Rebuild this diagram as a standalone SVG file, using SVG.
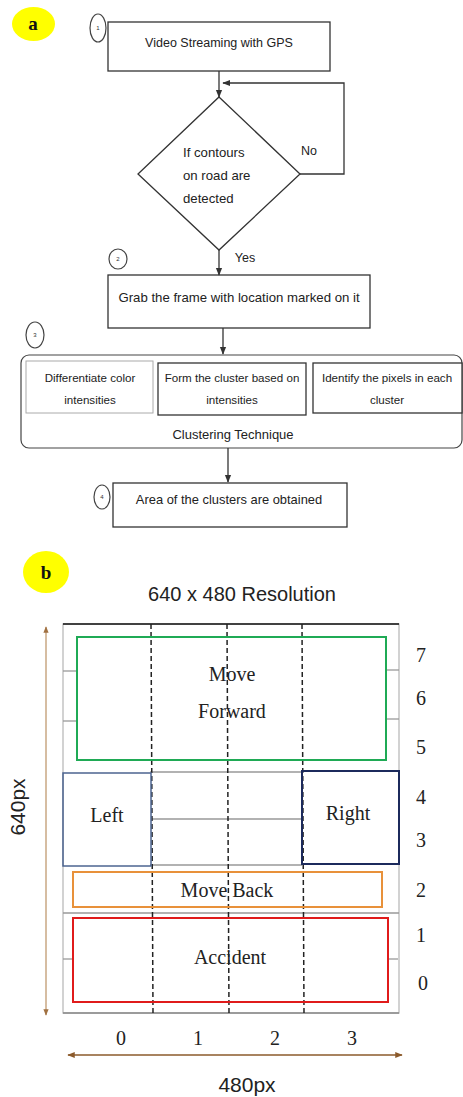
<svg xmlns="http://www.w3.org/2000/svg" width="463" height="1097" viewBox="0 0 463 1097">
<style>
.fc{font-family:"Liberation Sans",Arial,sans-serif;font-size:12.5px;fill:#222;text-anchor:middle}
.sm{font-size:11.6px}
.box{fill:#fff;stroke:#333;stroke-width:1.3}
.ln{fill:none;stroke:#333;stroke-width:1.3}
.num{fill:#fff;stroke:#444;stroke-width:1.2}
.tiny{font-family:"Liberation Sans",Arial,sans-serif;font-size:6px;fill:#333;text-anchor:middle}
.lab{font-family:"Liberation Serif","Times New Roman",serif;font-weight:bold;font-size:19px;fill:#111;text-anchor:middle}
.ser{font-family:"Liberation Serif","Times New Roman",serif;font-size:20px;fill:#222;text-anchor:middle}
.sans{font-family:"Liberation Sans",Arial,sans-serif;font-size:21px;fill:#222;text-anchor:middle}
.dash{stroke:#222;stroke-width:1.5;stroke-dasharray:5,3;fill:none}
.grid{stroke:#999;stroke-width:1.3;fill:none}
</style>
<defs>
<marker id="ah" viewBox="0 0 10 10" refX="9" refY="5" markerWidth="6" markerHeight="6" orient="auto-start-reverse"><path d="M0,1 L10,5 L0,9 z" fill="#333"/></marker>
<marker id="bh" viewBox="0 0 10 10" refX="9" refY="5" markerWidth="5" markerHeight="5" orient="auto-start-reverse"><path d="M0,1 L10,5 L0,9 z" fill="#8b5a2b"/></marker>
<marker id="vh" viewBox="0 0 10 10" refX="9" refY="5" markerWidth="5" markerHeight="5" orient="auto-start-reverse"><path d="M0,1 L10,5 L0,9 z" fill="#a07040"/></marker>
</defs>
<rect width="463" height="1097" fill="#fff"/>

<g id="label-a"><ellipse cx="33.5" cy="24" rx="21.5" ry="17" fill="#ffff00"/><text class="lab" x="33" y="30">a</text></g>

<g id="node1"><rect class="box" x="108" y="22" width="222" height="49"/><text class="fc" x="219" y="47">Video Streaming with GPS</text>
<ellipse class="num" cx="98" cy="28" rx="8" ry="14"/><text class="tiny" x="98" y="30">1</text></g>

<g id="decision"><polygon class="box" points="219,97 300,174 219,250 138,174"/>
<text class="fc" x="183" y="157" style="text-anchor:start;font-size:13.2px">If contours</text>
<text class="fc" x="183" y="180" style="text-anchor:start;font-size:13.2px">on road are</text>
<text class="fc" x="183" y="203" style="text-anchor:start;font-size:13.2px">detected</text></g>

<g id="node2"><rect class="box" x="108" y="275" width="262" height="53"/><text class="fc" x="239" y="302" style="font-size:13.2px">Grab the frame with location marked on it</text>
<ellipse class="num" cx="118" cy="259" rx="9" ry="10"/><text class="tiny" x="118" y="261">2</text></g>

<g id="node3"><rect x="21" y="355" width="441" height="93" rx="8" fill="#fff" stroke="#444" stroke-width="1.2"/>
<rect x="26" y="361" width="127" height="52" fill="#fff" stroke="#aaa" stroke-width="1"/>
<rect class="box" x="158" y="363" width="148" height="52"/>
<rect class="box" x="313" y="363" width="149" height="50"/>
<text class="fc sm" x="90" y="382">Differentiate color</text><text class="fc sm" x="90" y="404">intensities</text>
<text class="fc sm" x="232" y="382">Form the cluster based on</text><text class="fc sm" x="232" y="404">intensities</text>
<text class="fc sm" x="387" y="382">Identify the pixels in each</text><text class="fc sm" x="387" y="404">cluster</text>
<text class="fc" x="233" y="439" style="font-size:13px">Clustering Technique</text>
<ellipse class="num" cx="35" cy="335" rx="9" ry="13"/><text class="tiny" x="35" y="337">3</text></g>

<g id="node4"><rect class="box" x="113" y="483" width="234" height="44"/><text class="fc" x="229" y="504" style="font-size:12.9px">Area of the clusters are obtained</text>
<ellipse class="num" cx="102" cy="497" rx="8" ry="12"/><text class="tiny" x="102" y="499">4</text></g>

<g id="connectors">
<line class="ln" x1="219" y1="71" x2="219" y2="97" marker-end="url(#ah)"/>
<polyline class="ln" points="300,174 344,174 344,83 223,83" marker-end="url(#ah)"/>
<line class="ln" x1="219" y1="250" x2="219" y2="275" marker-end="url(#ah)"/>
<line class="ln" x1="223" y1="328" x2="223" y2="354" marker-end="url(#ah)"/>
<line class="ln" x1="228" y1="448" x2="228" y2="482" marker-end="url(#ah)"/>
<text class="fc" x="309" y="155">No</text>
<text class="fc" x="245" y="262">Yes</text>
</g>

<g id="label-b"><ellipse cx="46" cy="572" rx="23" ry="21" fill="#ffff00"/><text class="lab" x="46" y="579">b</text></g>
<text class="sans" x="242" y="601" style="font-size:20px">640 x 480 Resolution</text>

<g id="grid">
<rect x="63" y="624" width="336" height="389" fill="#fff" stroke="#bbb" stroke-width="1.3"/>
<line x1="63" y1="624" x2="399" y2="624" stroke="#111" stroke-width="1.5"/>
<line class="grid" x1="63" y1="671" x2="77" y2="671"/><line class="grid" x1="63" y1="721" x2="77" y2="721"/>
<line class="grid" x1="386" y1="670" x2="399" y2="670"/><line class="grid" x1="386" y1="719" x2="399" y2="719"/>
<line class="grid" x1="150" y1="772" x2="302" y2="772"/>
<line class="grid" x1="152" y1="819" x2="302" y2="819"/>
<line class="grid" x1="150" y1="865" x2="302" y2="865"/>
<line class="grid" x1="63" y1="913" x2="399" y2="913"/>
<line class="grid" x1="63" y1="959" x2="73" y2="959"/><line class="grid" x1="388" y1="959" x2="398" y2="959"/>
<line x1="63" y1="1013" x2="399" y2="1013" stroke="#888" stroke-width="1.5"/>
</g>

<g id="dashes">
<line class="dash" x1="151" y1="624" x2="153" y2="1013"/>
<line class="dash" x1="227" y1="624" x2="229" y2="1013"/>
<line class="dash" x1="302" y1="624" x2="304" y2="1013"/>
</g>

<g id="forward"><rect x="77" y="637" width="309" height="123" fill="none" stroke="#1faa55" stroke-width="2"/>
<text class="ser" x="232" y="681">Move</text><text class="ser" x="232" y="718">Forward</text></g>
<g id="left"><rect x="63" y="773" width="88" height="93" fill="none" stroke="#4c6490" stroke-width="1.5"/><text class="ser" x="107" y="822">Left</text></g>
<g id="right"><rect x="302" y="771" width="97" height="93" fill="none" stroke="#1c2a5c" stroke-width="2"/><text class="ser" x="348" y="820">Right</text></g>
<g id="back"><rect x="73" y="872" width="309" height="35" fill="none" stroke="#e8913a" stroke-width="2"/><text class="ser" x="227" y="897">Move Back</text></g>
<g id="accident"><rect x="73" y="918" width="315" height="84" fill="none" stroke="#e01b1b" stroke-width="2"/><text class="ser" x="230" y="964">Accident</text></g>

<g id="rows">
<text class="ser" x="421" y="662">7</text><text class="ser" x="421" y="705">6</text><text class="ser" x="421" y="754">5</text>
<text class="ser" x="421" y="804">4</text><text class="ser" x="421" y="847">3</text><text class="ser" x="421" y="897">2</text>
<text class="ser" x="421" y="942">1</text><text class="ser" x="423" y="990">0</text>
</g>
<g id="cols">
<text class="ser" x="121" y="1045">0</text><text class="ser" x="198" y="1045">1</text><text class="ser" x="275" y="1045">2</text><text class="ser" x="352" y="1045">3</text>
</g>

<g id="axes">
<line x1="68" y1="1055" x2="402" y2="1055" stroke="#8b5a2b" stroke-width="1.5" marker-start="url(#bh)" marker-end="url(#bh)"/>
<text class="sans" x="247" y="1092">480px</text>
<line x1="46" y1="627" x2="46" y2="1015" stroke="#c09a70" stroke-width="1.3" marker-start="url(#vh)" marker-end="url(#vh)"/>
<text class="sans" x="0" y="0" transform="translate(25,807) rotate(-90)">640px</text>
</g>
</svg>
